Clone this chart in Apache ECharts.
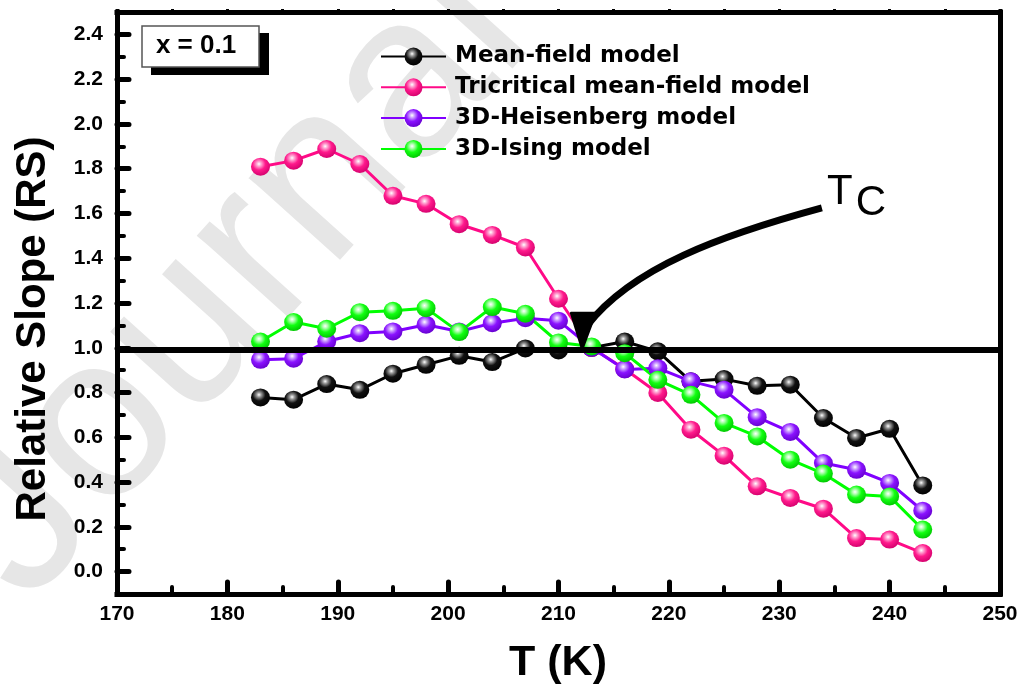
<!DOCTYPE html>
<html>
<head>
<meta charset="utf-8">
<title>Relative Slope vs T</title>
<script src="https://cdn.jsdelivr.net/npm/echarts@6/dist/echarts.min.js"></script>
<style>
  html, body { margin: 0; padding: 0; background: #ffffff; }
  #chart { width: 1021px; height: 687px; }
</style>
</head>
<body>
<div id="chart"></div>
<script>
// Temperatures (K) at which the relative slope was evaluated
const temperatures = [183, 186, 189, 192, 195, 198, 201, 204, 207, 210, 213,
                      216, 219, 222, 225, 228, 231, 234, 237, 240, 243];

// Relative slope RS for each critical-exponent model
const meanField   = [0.778, 0.768, 0.838, 0.812, 0.884, 0.924, 0.964, 0.936, 0.997, 0.988, 1.000,
                     1.028, 0.984, 0.850, 0.860, 0.830, 0.835, 0.686, 0.597, 0.638, 0.385];
const tricritical = [1.809, 1.836, 1.888, 1.821, 1.679, 1.643, 1.552, 1.504, 1.448, 1.219, 1.000,
                     0.905, 0.798, 0.634, 0.518, 0.381, 0.329, 0.281, 0.150, 0.143, 0.083];
const heisenberg  = [0.946, 0.951, 1.028, 1.065, 1.073, 1.103, 1.073, 1.110, 1.132, 1.121, 1.000,
                     0.903, 0.909, 0.850, 0.813, 0.690, 0.624, 0.485, 0.455, 0.396, 0.272];
const ising       = [1.028, 1.115, 1.085, 1.159, 1.165, 1.177, 1.070, 1.182, 1.152, 1.024, 1.006,
                     0.976, 0.857, 0.790, 0.664, 0.604, 0.500, 0.438, 0.344, 0.336, 0.188];

const seriesNames = ['Mean-field model', 'Tricritical mean-field model',
                     '3D-Heisenberg model', '3D-Ising model'];

// Axis ranges and tick steps
const xRange = [170, 250];
const yRange = [-0.1, 2.5];
const xMajorStep = 10;
const yMinorStep = 0.1;

// Reference level RS = 1 drawn across the plot
const REF_LEVEL = 0.99;

// Tc annotation anchors in data units (T, RS)
const tcArrow = [[212.57, 1.098], [216.65, 1.359], [224.80, 1.504], [233.86, 1.625]];
const tcMarker = [[211.12, 1.156], [213.39, 1.156], [212.14, 0.991]];
const tcLabelT = [235.49, 1.692];
const tcLabelC = [238.30, 1.647];

const chart = echarts.init(document.getElementById('chart'), null, { renderer: 'canvas' });

function sphere(light, base, dark) {
  return {
    type: 'radial', x: 0.42, y: 0.35, r: 0.68,
    colorStops: [
      { offset: 0, color: '#ffffff' },
      { offset: 0.18, color: light },
      { offset: 0.5, color: base },
      { offset: 1, color: dark }
    ]
  };
}

const styles = [
  { line: '#000000', fill: sphere('#9a9a9a', '#111111', '#000000') },
  { line: '#ff0a87', fill: sphere('#ffa6d3', '#ff1a8c', '#d2006c') },
  { line: '#8000ff', fill: sphere('#cfa6ff', '#8a12ff', '#6400cc') },
  { line: '#00ff00', fill: sphere('#b4ffb4', '#12ff12', '#00c400') }
];
const valueSets = [meanField, tricritical, heisenberg, ising];

const lineSeries = valueSets.map((vals, i) => ({
  name: seriesNames[i],
  type: 'line',
  data: temperatures.map((t, k) => [t, vals[k]]),
  symbol: 'circle',
  symbolSize: [19, 18],
  lineStyle: { color: styles[i].line, width: 3 },
  itemStyle: { color: styles[i].fill },
  emphasis: { disabled: true },
  z: 2
}));

lineSeries.push({
  type: 'line',
  data: [],
  silent: true,
  z: 6,
  markLine: {
    silent: true,
    symbol: 'none',
    label: { show: false },
    emphasis: { disabled: true },
    lineStyle: { color: '#000000', width: 6, type: 'solid' },
    data: [{ yAxis: REF_LEVEL }]
  }
});

const tickFont = { color: '#000', fontSize: 21, fontWeight: 'bold', fontFamily: 'Liberation Sans' };
const frameLine = { color: '#000', width: 5, cap: 'square' };

const option = {
  backgroundColor: '#ffffff',
  animation: false,
  grid: { left: 117, right: 21, top: 12, bottom: 93, containLabel: false },
  legend: {
    data: seriesNames,
    orient: 'vertical',
    left: 375,
    top: 39.5,
    itemWidth: 65,
    itemHeight: 22.5,
    itemGap: 6.8,
    selectedMode: false,
    textStyle: {
      fontFamily: 'DejaVu Sans', fontWeight: 'bold', fontSize: 23,
      color: '#000', lineHeight: 24, padding: [0, 0, 0, 4]
    }
  },
  xAxis: [
    {
      type: 'value', position: 'bottom',
      min: xRange[0], max: xRange[1], interval: xMajorStep,
      axisLine: { onZero: false, lineStyle: frameLine },
      axisTick: { inside: true, length: 12, lineStyle: { color: '#000', width: 5, cap: 'round' } },
      minorTick: { show: true, splitNumber: 2, length: 7, lineStyle: { color: '#000', width: 4, cap: 'round' } },
      axisLabel: Object.assign({ margin: 10 }, tickFont),
      splitLine: { show: false }
    },
    {
      type: 'value', position: 'top',
      min: xRange[0], max: xRange[1], interval: xMajorStep / 2,
      axisLine: { onZero: false, lineStyle: frameLine },
      axisTick: { inside: false, length: 3, lineStyle: { color: '#000', width: 3 } },
      axisLabel: { show: false },
      splitLine: { show: false }
    }
  ],
  yAxis: [
    {
      type: 'value', position: 'left',
      min: yRange[0], max: yRange[1], splitNumber: 13,
      axisLine: { onZero: false, lineStyle: frameLine },
      axisTick: { inside: true, length: 12, lineStyle: { color: '#000', width: 5, cap: 'round' } },
      axisLabel: Object.assign({
        margin: 14, showMinLabel: false, showMaxLabel: false,
        formatter: v => v.toFixed(1)
      }, tickFont),
      splitLine: { show: false }
    },
    {
      type: 'value', position: 'left',
      min: yRange[0], max: yRange[1], interval: yMinorStep,
      axisLine: { show: false },
      axisTick: { inside: true, length: 7, lineStyle: { color: '#000', width: 4, cap: 'round' } },
      axisLabel: { show: false },
      splitLine: { show: false }
    },
    {
      type: 'value', position: 'right',
      min: yRange[0], max: yRange[1], interval: yMinorStep,
      axisLine: { onZero: false, lineStyle: frameLine },
      axisTick: { inside: false, length: 3, lineStyle: { color: '#000', width: 3 } },
      axisLabel: { show: false },
      splitLine: { show: false }
    }
  ],
  series: lineSeries
};

chart.setOption(option);

// Overlay: watermark, composition box, axis titles and the Tc marker
const px = p => chart.convertToPixel({ xAxisIndex: 0, yAxisIndex: 0 }, p);
const a0 = px(tcArrow[0]), a1 = px(tcArrow[1]), a2 = px(tcArrow[2]), a3 = px(tcArrow[3]);
const m0 = px(tcMarker[0]), m1 = px(tcMarker[1]), m2 = px(tcMarker[2]);
const lt = px(tcLabelT), lc = px(tcLabelC);

function label(text, x, y, font, extra) {
  return Object.assign({
    type: 'text', x: x, y: y, z: 30,
    style: {
      text: text, font: font, fill: '#000',
      textAlign: 'center', textVerticalAlign: 'middle',
      align: 'center', verticalAlign: 'middle'
    }
  }, extra || {});
}

chart.setOption({
  graphic: [
    {
      type: 'text', x: 66, y: 642, rotation: 48 * Math.PI / 180, z: -1, silent: true,
      style: {
        text: 'Journal Pre-proof', font: '232px "Liberation Sans"', fill: '#e6e6e6',
        textAlign: 'left', textVerticalAlign: 'bottom', align: 'left', verticalAlign: 'bottom'
      }
    },
    { type: 'rect', z: 25, shape: { x: 151, y: 33, width: 118, height: 42 }, style: { fill: '#000' } },
    { type: 'rect', z: 26, shape: { x: 142, y: 26, width: 117, height: 41 },
      style: { fill: '#fff', stroke: '#555', lineWidth: 1.5 } },
    label('x = 0.1', 196, 46, 'bold 26px "Liberation Sans"'),
    label('Relative Slope (RS)', 33, 329, 'bold 42px "Liberation Sans"', { rotation: Math.PI / 2 }),
    label('T (K)', 558, 663, 'bold 43px "Liberation Sans"'),
    {
      type: 'bezierCurve', z: 30, silent: true,
      shape: { x1: a0[0], y1: a0[1], cpx1: a1[0], cpy1: a1[1], cpx2: a2[0], cpy2: a2[1], x2: a3[0], y2: a3[1] },
      style: { stroke: '#000', lineWidth: 7, fill: null }
    },
    {
      type: 'polygon', z: 31, silent: true,
      shape: { points: [m0, m1, m2] },
      style: { fill: '#000', stroke: '#000', lineWidth: 2, lineJoin: 'round' }
    },
    label('T', lt[0], lt[1], '42px "Liberation Sans"'),
    label('C', lc[0], lc[1], '42px "Liberation Sans"')
  ]
});
</script>
</body>
</html>
